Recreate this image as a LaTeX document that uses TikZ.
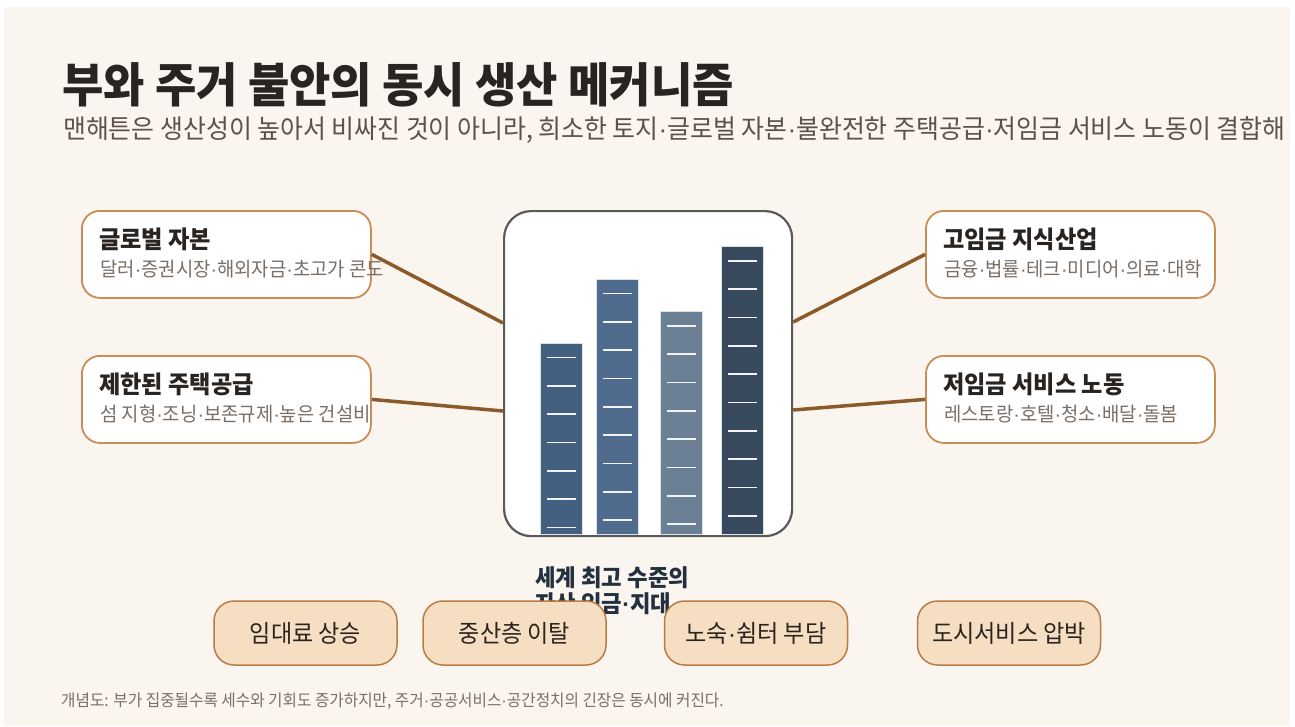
\documentclass[tikz,border=0pt]{standalone}
\usepackage{fontspec}
\setmainfont{Noto Sans CJK KR}[FakeStretch=0.95]
\newfontfamily\dotfont{Liberation Sans}
\newcommand{\mdd}{{\dotfont ·}}
\usetikzlibrary{calc}
\definecolor{cream}{HTML}{FAF5EF}
\definecolor{boxbrown}{HTML}{C98D55}
\definecolor{connbrown}{HTML}{8B5A2B}
\definecolor{pillfill}{HTML}{F5DEC1}
\definecolor{pilldraw}{HTML}{B97C45}
\definecolor{titlec}{HTML}{2A2420}
\definecolor{subc}{HTML}{5C5249}
\definecolor{graytext}{HTML}{7A6F66}
\definecolor{navy}{HTML}{22303F}
\definecolor{barA}{HTML}{436080}
\definecolor{barB}{HTML}{4F6B8E}
\definecolor{barC}{HTML}{6C8095}
\definecolor{barD}{HTML}{36495D}
\definecolor{chartline}{HTML}{5A5A5A}
\tikzset{
  sidebox/.style={draw=boxbrown, line width=1.8pt, fill=white, rounded corners=18pt,
    minimum width=289pt, minimum height=87pt, inner sep=0pt, anchor=north west},
  boxtitle/.style={font=\fontsize{24.4}{28}\selectfont\bfseries, text=titlec, inner sep=0pt, anchor=base west},
  boxsub/.style={font=\fontsize{19.8}{23}\selectfont, text=graytext, inner sep=0pt, anchor=base west},
  conn/.style={draw=connbrown, line width=3.5pt},
  bar/.style={draw=white!80!barB, line width=0.8pt, minimum width=42pt, inner sep=0pt, anchor=south west},
  tickline/.style={draw=white!92!barB, line width=1.8pt},
  pill/.style={draw=pilldraw, line width=1.5pt, fill=pillfill, rounded corners=20pt,
    minimum width=183pt, minimum height=64pt, inner sep=0pt,
    font=\fontsize{24.3}{28}\selectfont, text=titlec},
  capt/.style={font=\fontsize{23.5}{27}\selectfont\bfseries, text=navy, inner sep=0pt, anchor=base west},
}
\begin{document}
\begin{tikzpicture}[x=1pt,y=-1pt]
\useasboundingbox (0,0) rectangle (1295,726);
\fill[white] (0,0) rectangle (1295,726);
\fill[cream] (4,7) rectangle (1290,726);
% title
\node[font=\fontsize{47.3}{54}\selectfont\bfseries, text=titlec, inner sep=0pt, anchor=base west] (title) at (62,102) {부와 주거 불안의 동시 생산 메커니즘};
\node[font=\fontsize{26.2}{30}\selectfont, text=subc, inner sep=0pt, anchor=base west] (subtitle) at (63,138) {맨해튼은 생산성이 높아서 비싸진 것이 아니라, 희소한 토지\mdd 글로벌 자본\mdd 불완전한 주택공급\mdd 저임금 서비스 노동이 결합해};
% center chart box
\node[draw=chartline, line width=2.2pt, fill=white, rounded corners=27pt, minimum width=288pt, minimum height=325pt, inner sep=0pt, anchor=north west] (chart) at (503,210) {};
% side boxes and connectors
\node[sidebox] (cap) at (81,210) {};
\node[sidebox] (sup) at (81,355) {};
\node[sidebox] (hi) at (925,210) {};
\node[sidebox] (lo) at (925,355) {};
\draw[conn] (cap.east) -- ($(chart.north west)+(0,113)$);
\draw[conn] (sup.east) -- ($(chart.north west)+(0,201)$);
\draw[conn] (hi.west) -- ($(chart.north east)+(0,112)$);
\draw[conn] (lo.west) -- ($(chart.north east)+(0,200)$);
% side box texts
\node[boxtitle] (capt1) at ($(cap.north west)+(18,38)$) {글로벌 자본};
\node[boxsub] (caps1) at ($(cap.north west)+(19,66)$) {달러\mdd 증권시장\mdd 해외자금\mdd 초고가 콘도};
\node[boxtitle] (supt1) at ($(sup.north west)+(18,38)$) {제한된 주택공급};
\node[boxsub] (sups1) at ($(sup.north west)+(19,66)$) {섬 지형\mdd 조닝\mdd 보존규제\mdd 높은 건설비};
\node[boxtitle] (hit1) at ($(hi.north west)+(18,38)$) {고임금 지식산업};
\node[boxsub] (his1) at ($(hi.north west)+(19,66)$) {금융\mdd 법률\mdd 테크\mdd 미디어\mdd 의료\mdd 대학};
\node[boxtitle] (lot1) at ($(lo.north west)+(18,38)$) {저임금 서비스 노동};
\node[boxsub] (los1) at ($(lo.north west)+(19,66)$) {레스토랑\mdd 호텔\mdd 청소\mdd 배달\mdd 돌봄};
% bars
\node[bar, fill=barA, minimum height=191.7pt] (b1) at (540,535) {};
\node[bar, fill=barB, minimum height=255.7pt] (b2) at (596,535) {};
\node[bar, fill=barC, minimum height=223.3pt] (b3) at (660,535) {};
\node[bar, fill=barD, minimum height=288.3pt] (b4) at (721,535) {};
\foreach \b/\n in {b1/6, b2/8, b3/7, b4/9}{
  \foreach \k in {0,...,\n}{
    \draw[tickline] ($(\b.north)+(-14.5,15+28.33*\k)$) -- ++(29,0);
  }
}
% caption
\node[capt] (cap1) at (535,586) {세계 최고 수준의};
\node[capt] (cap2) at (535,612) {자산 임금\mdd 지대};
% bottom pills
\node[pill] (p1) at (305.5,633) {임대료 상승};
\node[pill] (p2) at (514.5,633) {중산층 이탈};
\node[pill] (p3) at (756,633) {노숙\mdd 쉼터 부담};
\node[pill] (p4) at (1009,633) {도시서비스 압박};
% footer
\node[font=\fontsize{16.5}{19}\selectfont, text=graytext, inner sep=0pt, anchor=base west] (foot) at (61,706) {개념도: 부가 집중될수록 세수와 기회도 증가하지만, 주거\mdd 공공서비스\mdd 공간정치의 긴장은 동시에 커진다.};
\end{tikzpicture}
\end{document}
